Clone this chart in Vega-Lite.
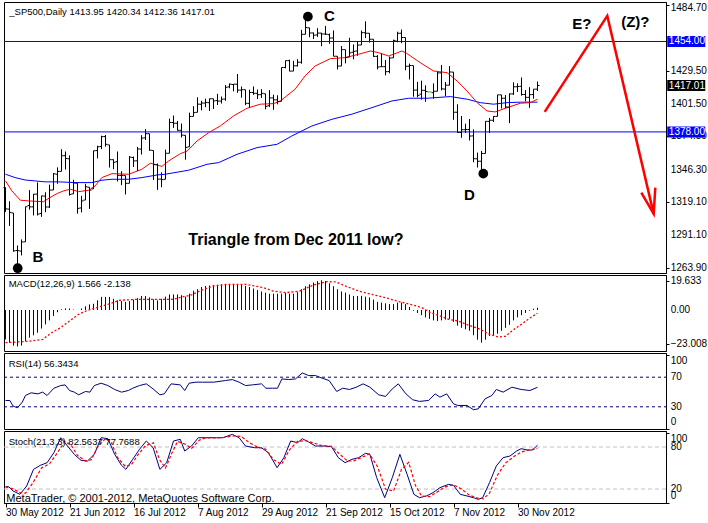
{
"$schema": "https://vega.github.io/schema/vega-lite/v6.json",
"padding": {"left": 2, "top": 1, "right": 0, "bottom": 0},
"background": "white",
"spacing": 2,
"bounds": "flush",
"config": {
  "view": {"stroke": "black", "strokeWidth": 1},
  "font": "Liberation Sans",
  "axis": {"labelFont": "Liberation Sans", "labelFontSize": 10, "labelColor": "black", "tickColor": "black", "domainColor": "black", "grid": false, "tickSize": 3, "labelPadding": 2, "title": null},
  "axisY": {"labels": false},
  "tick": {"opacity": 1},
  "point": {"opacity": 1},
  "text": {"font": "Liberation Sans"}
},
"datasets": {
  "ohlc": [
{"i":0,"o":1331.25,"h":1331.25,"l":1310.76,"c":1313.32},
{"i":1,"o":1313.09,"h":1319.74,"l":1298.9,"c":1310.33},
{"i":2,"o":1309.87,"h":1309.87,"l":1277.25,"c":1278.04},
{"i":3,"o":1278.29,"h":1282.55,"l":1266.74,"c":1278.18},
{"i":4,"o":1277.82,"h":1287.62,"l":1274.16,"c":1285.5},
{"i":5,"o":1285.61,"h":1315.13,"l":1285.61,"c":1315.13},
{"i":6,"o":1316.15,"h":1329.05,"l":1312.68,"c":1314.99},
{"i":7,"o":1314.99,"h":1325.81,"l":1307.77,"c":1325.66},
{"i":8,"o":1325.72,"h":1335.52,"l":1307.73,"c":1308.93},
{"i":9,"o":1309.4,"h":1324.31,"l":1306.62,"c":1324.18},
{"i":10,"o":1324.02,"h":1327.28,"l":1310.51,"c":1314.88},
{"i":11,"o":1314.88,"h":1333.68,"l":1314.14,"c":1329.1},
{"i":12,"o":1329.19,"h":1343.32,"l":1329.19,"c":1342.84},
{"i":13,"o":1342.42,"h":1348.22,"l":1334.46,"c":1344.78},
{"i":14,"o":1344.83,"h":1363.46,"l":1344.83,"c":1357.98},
{"i":15,"o":1358.04,"h":1361.57,"l":1346.45,"c":1355.69},
{"i":16,"o":1355.43,"h":1358.27,"l":1324.41,"c":1325.51},
{"i":17,"o":1325.92,"h":1337.82,"l":1325.92,"c":1335.02},
{"i":18,"o":1334.9,"h":1334.9,"l":1309.27,"c":1313.72},
{"i":19,"o":1314.09,"h":1324.24,"l":1310.3,"c":1319.99},
{"i":20,"o":1320.71,"h":1334.4,"l":1320.71,"c":1331.85},
{"i":21,"o":1331.52,"h":1331.52,"l":1313.29,"c":1329.04},
{"i":22,"o":1330.12,"h":1362.17,"l":1330.12,"c":1362.16},
{"i":23,"o":1362.33,"h":1366.35,"l":1355.7,"c":1365.51},
{"i":24,"o":1365.75,"h":1374.81,"l":1363.53,"c":1374.02},
{"i":25,"o":1374.09,"h":1375.45,"l":1365.56,"c":1367.58},
{"i":26,"o":1367.09,"h":1367.09,"l":1348.03,"c":1354.68},
{"i":27,"o":1354.66,"h":1354.87,"l":1346.65,"c":1352.46},
{"i":28,"o":1352.96,"h":1361.54,"l":1336.27,"c":1341.47},
{"i":29,"o":1341.4,"h":1345,"l":1333.25,"c":1341.45},
{"i":30,"o":1341.29,"h":1341.29,"l":1325.41,"c":1334.76},
{"i":31,"o":1334.81,"h":1357.7,"l":1334.81,"c":1356.78},
{"i":32,"o":1356.5,"h":1357.26,"l":1348.51,"c":1353.64},
{"i":33,"o":1353.68,"h":1365.36,"l":1345.07,"c":1363.67},
{"i":34,"o":1363.58,"h":1375.26,"l":1358.96,"c":1372.78},
{"i":35,"o":1373.01,"h":1380.39,"l":1371.21,"c":1376.51},
{"i":36,"o":1376.51,"h":1376.51,"l":1362.19,"c":1362.66},
{"i":37,"o":1362.34,"h":1362.34,"l":1337.56,"c":1350.52},
{"i":38,"o":1350.52,"h":1351.53,"l":1329.24,"c":1338.31},
{"i":39,"o":1338.35,"h":1343.98,"l":1331.5,"c":1337.89},
{"i":40,"o":1338.17,"h":1363.13,"l":1338.17,"c":1360.02},
{"i":41,"o":1360.05,"h":1389.19,"l":1360.05,"c":1385.97},
{"i":42,"o":1385.94,"h":1391.74,"l":1381.37,"c":1385.3},
{"i":43,"o":1385.27,"h":1387.16,"l":1379.17,"c":1379.32},
{"i":44,"o":1379.32,"h":1385.03,"l":1373.35,"c":1375.32},
{"i":45,"o":1375.13,"h":1375.13,"l":1354.65,"c":1365},
{"i":46,"o":1365.45,"h":1394.16,"l":1365.45,"c":1390.99},
{"i":47,"o":1391.04,"h":1399.63,"l":1391.04,"c":1394.23},
{"i":48,"o":1394.46,"h":1407.14,"l":1394.46,"c":1401.35},
{"i":49,"o":1401.23,"h":1404.14,"l":1396.13,"c":1402.22},
{"i":50,"o":1402.26,"h":1405.95,"l":1398.8,"c":1402.8},
{"i":51,"o":1402.58,"h":1405.98,"l":1395.62,"c":1405.87},
{"i":52,"o":1405.87,"h":1405.87,"l":1397.32,"c":1404.11},
{"i":53,"o":1404.36,"h":1410.03,"l":1400.6,"c":1403.93},
{"i":54,"o":1403.89,"h":1407.73,"l":1401.83,"c":1405.53},
{"i":55,"o":1405.57,"h":1417.44,"l":1404.15,"c":1415.51},
{"i":56,"o":1415.84,"h":1418.71,"l":1414.67,"c":1418.16},
{"i":57,"o":1417.85,"h":1418.13,"l":1412.12,"c":1418.13},
{"i":58,"o":1418.13,"h":1426.68,"l":1410.86,"c":1413.17},
{"i":59,"o":1413.09,"h":1416.12,"l":1406.78,"c":1413.49},
{"i":60,"o":1413.49,"h":1413.49,"l":1400.5,"c":1402.08},
{"i":61,"o":1401.99,"h":1413.46,"l":1398.04,"c":1411.13},
{"i":62,"o":1411.13,"h":1416.17,"l":1409.11,"c":1410.44},
{"i":63,"o":1410.44,"h":1413.63,"l":1405.59,"c":1409.3},
{"i":64,"o":1409.32,"h":1413.95,"l":1406.57,"c":1410.49},
{"i":65,"o":1410.08,"h":1410.08,"l":1397.01,"c":1399.48},
{"i":66,"o":1400.07,"h":1413.09,"l":1398.96,"c":1406.58},
{"i":67,"o":1406.54,"h":1409.31,"l":1396.56,"c":1404.94},
{"i":68,"o":1404.94,"h":1408.81,"l":1401.25,"c":1403.44},
{"i":69,"o":1403.74,"h":1432.12,"l":1403.74,"c":1432.12},
{"i":70,"o":1432.12,"h":1437.92,"l":1431.45,"c":1437.92},
{"i":71,"o":1437.92,"h":1438.74,"l":1428.98,"c":1429.08},
{"i":72,"o":1429.13,"h":1437.76,"l":1429.13,"c":1433.56},
{"i":73,"o":1433.56,"h":1439.15,"l":1432.99,"c":1436.56},
{"i":74,"o":1436.56,"h":1463.76,"l":1435.34,"c":1459.99},
{"i":75,"o":1460.07,"h":1474.51,"l":1460.07,"c":1465.77},
{"i":76,"o":1465.42,"h":1465.63,"l":1457.55,"c":1461.19},
{"i":77,"o":1461.19,"h":1461.47,"l":1456.13,"c":1459.32},
{"i":78,"o":1459.5,"h":1465.15,"l":1457.88,"c":1461.05},
{"i":79,"o":1461.05,"h":1461.23,"l":1449.98,"c":1460.26},
{"i":80,"o":1460.34,"h":1467.07,"l":1459.51,"c":1460.15},
{"i":81,"o":1459.76,"h":1460.72,"l":1452.06,"c":1456.89},
{"i":82,"o":1456.94,"h":1463.24,"l":1441.59,"c":1441.59},
{"i":83,"o":1441.6,"h":1441.6,"l":1430.53,"c":1433.32},
{"i":84,"o":1433.36,"h":1450.2,"l":1433.36,"c":1447.15},
{"i":85,"o":1447.13,"h":1447.13,"l":1435.6,"c":1440.67},
{"i":86,"o":1440.9,"h":1457.14,"l":1440.9,"c":1444.49},
{"i":87,"o":1444.99,"h":1451.52,"l":1439.01,"c":1445.75},
{"i":88,"o":1446.05,"h":1454.3,"l":1441.99,"c":1450.99},
{"i":89,"o":1451.08,"h":1463.14,"l":1451.08,"c":1461.4},
{"i":90,"o":1461.4,"h":1470.96,"l":1456.89,"c":1460.93},
{"i":91,"o":1460.93,"h":1460.93,"l":1453.1,"c":1455.88},
{"i":92,"o":1455.9,"h":1455.9,"l":1441.18,"c":1441.48},
{"i":93,"o":1441.48,"h":1442.52,"l":1430.64,"c":1432.56},
{"i":94,"o":1432.82,"h":1443.9,"l":1432.82,"c":1432.84},
{"i":95,"o":1432.84,"h":1438.43,"l":1425.53,"c":1428.59},
{"i":96,"o":1428.75,"h":1441.31,"l":1427.24,"c":1440.13},
{"i":97,"o":1440.31,"h":1455.51,"l":1440.31,"c":1454.92},
{"i":98,"o":1454.22,"h":1462.2,"l":1453.35,"c":1460.91},
{"i":99,"o":1460.94,"h":1464.02,"l":1452.63,"c":1457.34},
{"i":100,"o":1457.34,"h":1457.34,"l":1429.85,"c":1433.19},
{"i":101,"o":1433.21,"h":1435.46,"l":1422.06,"c":1433.82},
{"i":102,"o":1433.74,"h":1433.74,"l":1407.56,"c":1413.11},
{"i":103,"o":1413.2,"h":1420.04,"l":1407.1,"c":1408.75},
{"i":104,"o":1409.74,"h":1421.12,"l":1405.14,"c":1412.97},
{"i":105,"o":1412.97,"h":1417.09,"l":1403.28,"c":1411.94},
{"i":106,"o":1411.6,"h":1411.6,"l":1411.6,"c":1411.6},
{"i":107,"o":1410.99,"h":1418.76,"l":1405.95,"c":1412.16},
{"i":108,"o":1412.2,"h":1428.35,"l":1412.2,"c":1427.59},
{"i":109,"o":1427.59,"h":1434.27,"l":1412.91,"c":1414.2},
{"i":110,"o":1414.02,"h":1419.9,"l":1408.13,"c":1417.26},
{"i":111,"o":1417.26,"h":1433.38,"l":1417.26,"c":1428.39},
{"i":112,"o":1428.27,"h":1428.27,"l":1388.14,"c":1394.53},
{"i":113,"o":1394.53,"h":1401.23,"l":1377.51,"c":1377.51},
{"i":114,"o":1377.55,"h":1391.39,"l":1373.03,"c":1379.85},
{"i":115,"o":1379.86,"h":1384.87,"l":1377.19,"c":1380.03},
{"i":116,"o":1380.03,"h":1388.81,"l":1370.78,"c":1374.53},
{"i":117,"o":1374.64,"h":1380.13,"l":1352.5,"c":1355.49},
{"i":118,"o":1355.41,"h":1360.62,"l":1348.05,"c":1353.33},
{"i":119,"o":1353.36,"h":1362.03,"l":1343.35,"c":1359.88},
{"i":120,"o":1359.88,"h":1386.89,"l":1359.88,"c":1386.89},
{"i":121,"o":1386.82,"h":1389.77,"l":1377.04,"c":1387.81},
{"i":122,"o":1387.79,"h":1391.25,"l":1386.39,"c":1391.03},
{"i":123,"o":1391.03,"h":1409.16,"l":1391.03,"c":1409.15},
{"i":124,"o":1409.15,"h":1409.15,"l":1397.68,"c":1406.29},
{"i":125,"o":1406.29,"h":1409.01,"l":1398.03,"c":1398.94},
{"i":126,"o":1398.77,"h":1410.31,"l":1385.43,"c":1409.93},
{"i":127,"o":1409.96,"h":1419.7,"l":1409.04,"c":1415.95},
{"i":128,"o":1415.95,"h":1418.86,"l":1411.63,"c":1416.18},
{"i":129,"o":1416.34,"h":1423.73,"l":1408.46,"c":1409.46},
{"i":130,"o":1409.46,"h":1413.14,"l":1403.65,"c":1407.05},
{"i":131,"o":1407.05,"h":1415.56,"l":1398.23,"c":1409.28},
{"i":132,"o":1409.43,"h":1413.95,"l":1405.93,"c":1413.94},
{"i":133,"o":1413.95,"h":1420.34,"l":1412.36,"c":1417.01}
  ],
  "red": [
{"i":0,"v":1336.8},{"i":1.6,"v":1328.4},{"i":3.7,"v":1320.6},{"i":5.8,"v":1320},{"i":9.5,"v":1319.3},{"i":11.1,"v":1322.8},{"i":12.9,"v":1326.2},{"i":14.5,"v":1328.4},{"i":16.2,"v":1329.8},{"i":18.3,"v":1327.8},{"i":20.8,"v":1329},{"i":22.4,"v":1332.6},{"i":24.1,"v":1339.6},{"i":26.6,"v":1342.9},{"i":30.8,"v":1342.4},{"i":34.1,"v":1346.6},{"i":36.2,"v":1351.7},{"i":39.1,"v":1349},{"i":40.8,"v":1353.6},{"i":43.7,"v":1359.7},{"i":45.4,"v":1361.9},{"i":47.9,"v":1370.4},{"i":50.8,"v":1377.4},{"i":53.7,"v":1383},{"i":57,"v":1391.4},{"i":60.4,"v":1397.9},{"i":63.7,"v":1401.3},{"i":67,"v":1401.8},{"i":68.7,"v":1404},{"i":72.4,"v":1413.9},{"i":74.9,"v":1425.1},{"i":77.4,"v":1433.4},{"i":81.2,"v":1439.6},{"i":84.9,"v":1440.4},{"i":88.3,"v":1443.3},{"i":91.2,"v":1446},{"i":93.3,"v":1444.6},{"i":95.8,"v":1441.8},{"i":99.1,"v":1446},{"i":100.3,"v":1444},{"i":103.7,"v":1436.2},{"i":107,"v":1429.2},{"i":110.4,"v":1427.8},{"i":112.9,"v":1420.8},{"i":115.4,"v":1412.4},{"i":117.9,"v":1402.6},{"i":120.4,"v":1395.6},{"i":122.4,"v":1394.8},{"i":125.4,"v":1398.4},{"i":128.7,"v":1402.1},{"i":131.2,"v":1402.6},{"i":133,"v":1405.5}
  ],
  "blue": [
{"i":0,"v":1342.4},{"i":2.4,"v":1339.6},{"i":4.9,"v":1337.6},{"i":7.4,"v":1336.8},{"i":9.9,"v":1336},{"i":13.3,"v":1336},{"i":17.4,"v":1335.4},{"i":21.6,"v":1335.4},{"i":24.1,"v":1337.4},{"i":26.6,"v":1338.2},{"i":30.8,"v":1338.2},{"i":34.1,"v":1339.6},{"i":37.9,"v":1341.8},{"i":39.9,"v":1342.4},{"i":45.8,"v":1345.8},{"i":50.4,"v":1350.8},{"i":53.3,"v":1352.2},{"i":57.9,"v":1359.2},{"i":62.9,"v":1364.8},{"i":67.9,"v":1367.6},{"i":71.6,"v":1374.6},{"i":76.6,"v":1383},{"i":81.6,"v":1388.6},{"i":86.6,"v":1392.9},{"i":91.6,"v":1398.4},{"i":96.6,"v":1404},{"i":100.8,"v":1406.3},{"i":105.4,"v":1406.3},{"i":111.2,"v":1407.7},{"i":115.4,"v":1405.5},{"i":118.7,"v":1402.6},{"i":122,"v":1401.3},{"i":125.4,"v":1402.6},{"i":128.7,"v":1403},{"i":133,"v":1403}
  ],
  "levels": [{"v":1454},{"v":1378}],
  "arrow": [
{"s":1,"o":1,"i":134.8,"v":1394.8},{"s":1,"o":2,"i":150.45,"v":1475.5},{"s":1,"o":3,"i":162.05,"v":1309.1},
{"s":2,"o":1,"i":158.95,"v":1327.0},{"s":2,"o":2,"i":162.05,"v":1309.1},{"s":2,"o":3,"i":162.45,"v":1331.2}
  ],
  "dots": [{"i":3.05,"v":1263.4},{"i":75.6,"v":1474.9},{"i":119.45,"v":1342.9}],
  "marks": [
{"i":8.1,"v":1273.0,"t":"B"},{"i":80.95,"v":1475.2,"t":"C"},{"i":115.95,"v":1324.8,"t":"D"},{"i":144.1,"v":1468.5,"t":"E?"},{"i":157.45,"v":1470.7,"t":"(Z)?"}
  ],
  "pticks": [{"v":1429.5},{"v":1401.5},{"v":1374.3},{"v":1346.3},{"v":1319.1},{"v":1291.1},{"v":1263.9}],
  "ptop": [{"v":1484.7}],
  "boxes": [
{"v":1454,"t":"1454.00","k":"level"},{"v":1378,"t":"1378.00","k":"level"},{"v":1417.01,"t":"1417.01","k":"last"}
  ],
  "macd": [
{"i":0,"m":-19.8},{"i":1,"m":-22},{"i":2,"m":-24},{"i":3,"m":-24.5},{"i":4,"m":-24},{"i":5,"m":-21},{"i":6,"m":-18.6},{"i":7,"m":-17},{"i":8,"m":-15.3},{"i":9,"m":-12.5},
{"i":10,"m":-9.7},{"i":11,"m":-7},{"i":12,"m":-4},{"i":13,"m":-1.5},{"i":14,"m":0.5},{"i":15,"m":1.1},{"i":16,"m":1},{"i":17,"m":0.3},{"i":18,"m":0},{"i":19,"m":1},
{"i":20,"m":2.5},{"i":21,"m":3.8},{"i":22,"m":4.2},{"i":23,"m":6.5},{"i":24,"m":8.8},{"i":25,"m":8.8},{"i":26,"m":8.8},{"i":27,"m":7.5},{"i":28,"m":6.5},{"i":29,"m":6},
{"i":30,"m":5.5},{"i":31,"m":6},{"i":32,"m":7},{"i":33,"m":8},{"i":34,"m":9.4},{"i":35,"m":9.4},{"i":36,"m":8.5},{"i":37,"m":7.2},{"i":38,"m":6.5},{"i":39,"m":7.5},
{"i":40,"m":9},{"i":41,"m":10.5},{"i":42,"m":10.5},{"i":43,"m":10.5},{"i":44,"m":10},{"i":45,"m":9},{"i":46,"m":11},{"i":47,"m":13},{"i":48,"m":14},{"i":49,"m":15.5},
{"i":50,"m":16.2},{"i":51,"m":16.5},{"i":52,"m":16.8},{"i":53,"m":17},{"i":54,"m":17.2},{"i":55,"m":17.3},{"i":56,"m":17.5},{"i":57,"m":17.5},{"i":58,"m":17.3},{"i":59,"m":17},
{"i":60,"m":16.2},{"i":61,"m":15.5},{"i":62,"m":14.5},{"i":63,"m":13.5},{"i":64,"m":12.5},{"i":65,"m":11.7},{"i":66,"m":11},{"i":67,"m":11},{"i":68,"m":11},{"i":69,"m":11},
{"i":70,"m":11.5},{"i":71,"m":11},{"i":72,"m":11},{"i":73,"m":12},{"i":74,"m":14},{"i":75,"m":16},{"i":76,"m":17.3},{"i":77,"m":18.5},{"i":78,"m":19.5},{"i":79,"m":20},
{"i":80,"m":19.5},{"i":81,"m":18},{"i":82,"m":16},{"i":83,"m":14},{"i":84,"m":12.5},{"i":85,"m":11.7},{"i":86,"m":10.5},{"i":87,"m":9.5},{"i":88,"m":9.4},{"i":89,"m":9.5},
{"i":90,"m":9},{"i":91,"m":8.5},{"i":92,"m":7},{"i":93,"m":5.5},{"i":94,"m":5},{"i":95,"m":4.5},{"i":96,"m":4},{"i":97,"m":4},{"i":98,"m":5},{"i":99,"m":5},
{"i":100,"m":4},{"i":101,"m":2},{"i":102,"m":-0.5},{"i":103,"m":-2},{"i":104,"m":-3.5},{"i":105,"m":-5},{"i":106,"m":-6},{"i":107,"m":-7},{"i":108,"m":-7.4},{"i":109,"m":-7},
{"i":110,"m":-6.5},{"i":111,"m":-6},{"i":112,"m":-8},{"i":113,"m":-10.5},{"i":114,"m":-12},{"i":115,"m":-13},{"i":116,"m":-14},{"i":117,"m":-17},{"i":118,"m":-20},{"i":119,"m":-22},
{"i":120,"m":-20},{"i":121,"m":-17.5},{"i":122,"m":-17},{"i":123,"m":-16},{"i":124,"m":-14},{"i":125,"m":-12},{"i":126,"m":-10},{"i":127,"m":-7},{"i":128,"m":-5},{"i":129,"m":-3.5},
{"i":130,"m":-2},{"i":131,"m":-0.5},{"i":132,"m":0.8},{"i":133,"m":1.566}
  ],
  "signal": [
{"i":0,"v":-22},{"i":5.9,"v":-21},{"i":9.3,"v":-19.8},{"i":11.5,"v":-15.3},{"i":13.8,"v":-11.9},{"i":16,"v":-7.4},{"i":18.3,"v":-2.9},{"i":20.5,"v":-0.2},{"i":22.8,"v":1.6},{"i":26.2,"v":4.3},{"i":28.4,"v":6.5},{"i":33,"v":7.2},{"i":42,"v":7.2},{"i":44.2,"v":8.8},{"i":46.5,"v":10.1},{"i":48.8,"v":13.2},{"i":52.1,"v":16.2},{"i":55.5,"v":17.3},{"i":60,"v":17.3},{"i":64.6,"v":15},{"i":66.8,"v":12.8},{"i":70.2,"v":11.7},{"i":73.6,"v":12.8},{"i":77,"v":16.8},{"i":80.4,"v":19.1},{"i":82.6,"v":18.9},{"i":84.9,"v":16.2},{"i":88.3,"v":12.8},{"i":91.6,"v":10.5},{"i":95,"v":8.3},{"i":98.4,"v":5.6},{"i":101.8,"v":3.4},{"i":104.1,"v":1.6},{"i":106.3,"v":-1.8},{"i":108.6,"v":-4},{"i":110.8,"v":-6.3},{"i":113.1,"v":-7.4},{"i":115.3,"v":-9.7},{"i":118.7,"v":-13},{"i":121,"v":-16.4},{"i":123.3,"v":-18.2},{"i":125,"v":-17.7},{"i":126.6,"v":-14.1},{"i":128.9,"v":-9.7},{"i":131.2,"v":-5.2},{"i":133,"v":-2.138}
  ],
  "rsi": [
{"i":0,"v":38.5},{"i":1.1,"v":38.5},{"i":1.9,"v":30.9},{"i":3,"v":28.7},{"i":4.2,"v":36.3},{"i":5,"v":45.3},{"i":6.4,"v":48.9},{"i":8.1,"v":47.5},{"i":9.3,"v":49.8},{"i":10.4,"v":45.3},{"i":12.1,"v":55.1},{"i":13.8,"v":58.7},{"i":14.9,"v":59.6},{"i":16,"v":52},{"i":17.2,"v":49.8},{"i":18.3,"v":46.2},{"i":20,"v":50.7},{"i":21.1,"v":49.8},{"i":22.2,"v":58.7},{"i":23.9,"v":61.9},{"i":25.6,"v":58.7},{"i":27.3,"v":53.4},{"i":29,"v":49.8},{"i":30.7,"v":52},{"i":31.8,"v":55.1},{"i":33.5,"v":58.7},{"i":35.2,"v":61},{"i":36.9,"v":54.2},{"i":38.6,"v":46.2},{"i":39.7,"v":47.5},{"i":41.4,"v":61},{"i":43.7,"v":59.6},{"i":44.8,"v":52},{"i":45.9,"v":61.9},{"i":47.6,"v":63.3},{"i":49.3,"v":63.3},{"i":52.1,"v":63.3},{"i":55,"v":65.5},{"i":56.7,"v":66.8},{"i":58.4,"v":63.3},{"i":60,"v":58.7},{"i":61.7,"v":59.6},{"i":64,"v":61},{"i":65.1,"v":55.1},{"i":66.8,"v":55.1},{"i":68,"v":55.1},{"i":69.1,"v":67.7},{"i":70.8,"v":66.8},{"i":72.5,"v":67.7},{"i":74.2,"v":75.8},{"i":75.8,"v":72.2},{"i":77.5,"v":72.2},{"i":79.2,"v":68.6},{"i":80.9,"v":65.5},{"i":82.8,"v":50.7},{"i":84.3,"v":55.1},{"i":86,"v":53.4},{"i":87.7,"v":56.5},{"i":89.4,"v":61},{"i":91.1,"v":56.5},{"i":93.3,"v":46.2},{"i":95,"v":44},{"i":96.7,"v":54.2},{"i":98.2,"v":61},{"i":100.1,"v":47.5},{"i":101.8,"v":39.5},{"i":103.5,"v":37.3},{"i":105.8,"v":38.6},{"i":107.4,"v":47.5},{"i":108.6,"v":43},{"i":110.3,"v":47.5},{"i":112,"v":34},{"i":113.1,"v":31.8},{"i":115.4,"v":31.8},{"i":117,"v":26},{"i":118.2,"v":27.3},{"i":119.9,"v":40.8},{"i":121.6,"v":45.3},{"i":122.7,"v":53.4},{"i":124.4,"v":49.8},{"i":126.6,"v":56.5},{"i":128.9,"v":53.4},{"i":131.1,"v":52},{"i":133,"v":56.34}
  ],
  "stk": [
{"i":0,"v":23.3},{"i":0.8,"v":23.3},{"i":1.9,"v":17.1},{"i":3.6,"v":12.4},{"i":5.3,"v":24.3},{"i":7,"v":48.1},{"i":8.7,"v":53.8},{"i":10.4,"v":57.6},{"i":12.1,"v":71.9},{"i":13.8,"v":93.3},{"i":15.5,"v":81.4},{"i":17.2,"v":69.5},{"i":18.9,"v":60.9},{"i":20.5,"v":60},{"i":22.2,"v":69.5},{"i":23.9,"v":93.3},{"i":25.6,"v":91.9},{"i":27.3,"v":69.5},{"i":29,"v":53.8},{"i":30.1,"v":48.1},{"i":31.8,"v":62.4},{"i":33.5,"v":76.7},{"i":35.2,"v":88.6},{"i":36.9,"v":79},{"i":38.6,"v":48.1},{"i":40.3,"v":57.6},{"i":42,"v":88.6},{"i":43.7,"v":91},{"i":44.8,"v":74.3},{"i":46.5,"v":81.4},{"i":48.2,"v":93.3},{"i":49.9,"v":93.3},{"i":52.7,"v":93.3},{"i":54.4,"v":93.3},{"i":56.7,"v":98.1},{"i":58.4,"v":93.3},{"i":60,"v":81.4},{"i":62.3,"v":79},{"i":64,"v":79},{"i":65.7,"v":71.9},{"i":67.9,"v":50.5},{"i":69.6,"v":64.8},{"i":71.3,"v":88.6},{"i":73,"v":86.2},{"i":74.2,"v":91.9},{"i":75.8,"v":87.1},{"i":77.5,"v":81.4},{"i":79.8,"v":81.4},{"i":81.5,"v":80.5},{"i":83.2,"v":64.8},{"i":84.9,"v":57.6},{"i":86.6,"v":62.4},{"i":88.3,"v":64.8},{"i":90,"v":71},{"i":91.1,"v":69.5},{"i":92.8,"v":36.2},{"i":94.8,"v":7.6},{"i":96.7,"v":36.2},{"i":98.6,"v":69.5},{"i":100.4,"v":41},{"i":102.1,"v":12.4},{"i":103.5,"v":7.6},{"i":105.2,"v":10},{"i":106.9,"v":14.8},{"i":108.6,"v":21.9},{"i":110.8,"v":26.7},{"i":112,"v":25.2},{"i":113.7,"v":12.4},{"i":115.4,"v":10},{"i":117,"v":7.6},{"i":118.2,"v":5.2},{"i":119.3,"v":7.6},{"i":121,"v":29},{"i":122.7,"v":52.9},{"i":124.4,"v":64.8},{"i":126.1,"v":67.1},{"i":127.8,"v":74.3},{"i":128.9,"v":77.6},{"i":130.6,"v":75.7},{"i":131.7,"v":75.7},{"i":133,"v":82.56}
  ],
  "std": [
{"i":0,"v":23},{"i":2,"v":20},{"i":3.5,"v":15},{"i":5,"v":14},{"i":7,"v":30},{"i":9,"v":50},{"i":11,"v":56},{"i":13,"v":72},{"i":14.8,"v":88},{"i":16.5,"v":82},{"i":18,"v":68},{"i":20,"v":60},{"i":21.5,"v":62},{"i":23,"v":80},{"i":25,"v":92},{"i":26.5,"v":86},{"i":28,"v":65},{"i":30,"v":52},{"i":31.5,"v":55},{"i":33,"v":68},{"i":35,"v":82},{"i":37,"v":86},{"i":38.5,"v":62},{"i":40,"v":50},{"i":41.5,"v":70},{"i":43,"v":88},{"i":45,"v":84},{"i":46.5,"v":78},{"i":48.5,"v":90},{"i":50,"v":93},{"i":53,"v":93},{"i":55,"v":94},{"i":57,"v":96},{"i":59,"v":95},{"i":61,"v":86},{"i":63,"v":80},{"i":65,"v":77},{"i":67,"v":62},{"i":69,"v":55},{"i":71,"v":76},{"i":73,"v":88},{"i":75,"v":89},{"i":77,"v":86},{"i":79,"v":82},{"i":81.5,"v":81},{"i":83.5,"v":70},{"i":85.5,"v":60},{"i":87,"v":60},{"i":89,"v":65},{"i":91,"v":70},{"i":93,"v":52},{"i":95,"v":20},{"i":97,"v":17},{"i":99,"v":48},{"i":100.8,"v":58},{"i":102.5,"v":25},{"i":104,"v":10},{"i":106,"v":9},{"i":108,"v":16},{"i":110,"v":23},{"i":112,"v":26},{"i":114,"v":20},{"i":116,"v":11},{"i":118,"v":7},{"i":119.5,"v":6},{"i":121,"v":14},{"i":123,"v":40},{"i":125,"v":57},{"i":127,"v":66},{"i":129,"v":73},{"i":131,"v":76},{"i":133,"v":77.77}
  ]
},
"vconcat": [
  {
    "width": 662, "height": 271,
    "layer": [
      {"data": {"name": "levels"}, "mark": {"type": "rule", "color": "#0000ff", "strokeWidth": 1},
       "encoding": {
         "x": {"datum": -0.375, "type": "quantitative", "scale": {"domain": [-0.375, 165.125], "nice": false, "zero": false}, "axis": null},
         "x2": {"datum": 165.125},
         "y": {"field": "v", "type": "quantitative", "scale": {"domain": [1259.4, 1487.2], "nice": false, "zero": false},
               "axis": {"orient": "right", "title": null, "labels": false, "values": [1263.9, 1291.1, 1319.1, 1346.3, 1374.3, 1401.5, 1429.5, 1457.1, 1484.7]}}
       }},
      {"data": {"name": "blue"}, "mark": {"type": "line", "color": "#0000ff", "strokeWidth": 1},
       "encoding": {"x": {"field": "i", "type": "quantitative"}, "y": {"field": "v", "type": "quantitative"}}},
      {"data": {"name": "red"}, "mark": {"type": "line", "color": "#ff0000", "strokeWidth": 1},
       "encoding": {"x": {"field": "i", "type": "quantitative"}, "y": {"field": "v", "type": "quantitative"}}},
      {"data": {"name": "ohlc"}, "mark": {"type": "rule", "strokeWidth": 1},
       "encoding": {"x": {"field": "i", "type": "quantitative"}, "y": {"field": "l", "type": "quantitative"}, "y2": {"field": "h"},
         "color": {"condition": {"test": "datum.h == datum.l", "value": "#00c000"}, "value": "black"}}},
      {"data": {"name": "ohlc"}, "mark": {"type": "tick", "orient": "horizontal", "size": 2, "thickness": 1, "xOffset": -1},
       "encoding": {"x": {"field": "i", "type": "quantitative"}, "y": {"field": "o", "type": "quantitative"},
         "color": {"condition": {"test": "datum.h == datum.l", "value": "#00c000"}, "value": "black"}}},
      {"data": {"name": "ohlc"}, "mark": {"type": "tick", "orient": "horizontal", "size": 2, "thickness": 1, "xOffset": 1},
       "encoding": {"x": {"field": "i", "type": "quantitative"}, "y": {"field": "c", "type": "quantitative"},
         "color": {"condition": {"test": "datum.h == datum.l", "value": "#00c000"}, "value": "black"}}},
      {"data": {"name": "arrow"}, "mark": {"type": "line", "color": "#ff0000", "strokeWidth": 2.5},
       "encoding": {"x": {"field": "i", "type": "quantitative"}, "y": {"field": "v", "type": "quantitative"}, "detail": {"field": "s"}, "order": {"field": "o"}}},
      {"data": {"name": "dots"}, "mark": {"type": "point", "filled": true, "color": "black", "size": 95},
       "encoding": {"x": {"field": "i", "type": "quantitative"}, "y": {"field": "v", "type": "quantitative"}}},
      {"data": {"name": "marks"}, "mark": {"type": "text", "fontSize": 15, "fontWeight": "bold", "color": "black", "align": "center", "baseline": "middle"},
       "encoding": {"x": {"field": "i", "type": "quantitative"}, "y": {"field": "v", "type": "quantitative"}, "text": {"field": "t"}}},
      {"data": {"values": [{"t": "Triangle from Dec 2011 low?"}]}, "mark": {"type": "text", "fontSize": 16, "fontWeight": "bold", "color": "black", "align": "center", "baseline": "middle"},
       "encoding": {"x": {"datum": 72.6, "type": "quantitative"}, "y": {"datum": 1287.0, "type": "quantitative"}, "text": {"field": "t"}}},
      {"data": {"values": [{"t": "_SP500,Daily  1413.95 1420.34 1412.36 1417.01"}]}, "mark": {"type": "text", "fontSize": 9.5, "color": "black", "align": "left", "baseline": "middle"},
       "encoding": {"x": {"datum": 0.95, "type": "quantitative"}, "y": {"datum": 1479.1, "type": "quantitative"}, "text": {"field": "t"}}},
      {"data": {"name": "pticks"}, "mark": {"type": "text", "fontSize": 10, "color": "black", "align": "left", "baseline": "middle"},
       "encoding": {"x": {"datum": 166.3, "type": "quantitative"}, "y": {"field": "v", "type": "quantitative"}, "text": {"field": "v", "type": "quantitative", "format": ".2f"}}},
      {"data": {"name": "ptop"}, "mark": {"type": "text", "fontSize": 10, "color": "black", "align": "left", "baseline": "middle", "yOffset": 3},
       "encoding": {"x": {"datum": 166.3, "type": "quantitative"}, "y": {"field": "v", "type": "quantitative"}, "text": {"field": "v", "type": "quantitative", "format": ".2f"}}},
      {"data": {"name": "boxes"}, "mark": {"type": "tick", "orient": "horizontal", "size": 38, "thickness": 11},
       "encoding": {"x": {"datum": 170.19, "type": "quantitative"}, "y": {"field": "v", "type": "quantitative"},
         "color": {"field": "k", "type": "nominal", "scale": {"domain": ["level", "last"], "range": ["#0000ff", "#000000"]}, "legend": null}}},
      {"data": {"name": "boxes"}, "mark": {"type": "text", "fontSize": 10, "color": "white", "align": "left", "baseline": "middle"},
       "encoding": {"x": {"datum": 165.83, "type": "quantitative"}, "y": {"field": "v", "type": "quantitative"}, "text": {"field": "t"}}}
    ]
  },
  {
    "width": 662, "height": 76,
    "layer": [
      {"data": {"name": "macd"}, "mark": {"type": "rule", "color": "#000080", "strokeWidth": 1},
       "encoding": {
         "x": {"field": "i", "type": "quantitative", "scale": {"domain": [-0.375, 165.125], "nice": false, "zero": false}, "axis": null},
         "y": {"field": "m", "type": "quantitative", "scale": {"domain": [-27.6, 23.57], "nice": false, "zero": false},
               "axis": {"orient": "right", "title": null, "labels": false, "values": [-23.008, 0, 19.633]}},
         "y2": {"datum": 0}
       }},
      {"data": {"name": "signal"}, "mark": {"type": "line", "color": "#ff0000", "strokeWidth": 1.3, "strokeDash": [2, 2]},
       "encoding": {"x": {"field": "i", "type": "quantitative"}, "y": {"field": "v", "type": "quantitative"}}},
      {"data": {"values": [{"t": "MACD(12,26,9) 1.566 -2.138"}]}, "mark": {"type": "text", "fontSize": 9.5, "color": "black", "align": "left", "baseline": "middle"},
       "encoding": {"x": {"datum": 0.8, "type": "quantitative"}, "y": {"datum": 17.2, "type": "quantitative"}, "text": {"field": "t"}}},
      {"data": {"values": [{"v": 19.633}, {"v": -23.008}]}, "mark": {"type": "text", "fontSize": 10, "color": "black", "align": "left", "baseline": "middle"},
       "encoding": {"x": {"datum": 166.3, "type": "quantitative"}, "y": {"field": "v", "type": "quantitative"}, "text": {"field": "v", "type": "quantitative", "format": ".3f"}}},
      {"data": {"values": [{"v": 0}]}, "mark": {"type": "text", "fontSize": 10, "color": "black", "align": "left", "baseline": "middle"},
       "encoding": {"x": {"datum": 166.3, "type": "quantitative"}, "y": {"field": "v", "type": "quantitative"}, "text": {"field": "v", "type": "quantitative", "format": ".2f"}}}
    ]
  },
  {
    "width": 662, "height": 76,
    "layer": [
      {"data": {"values": [{"v": 30}, {"v": 70}]}, "mark": {"type": "rule", "color": "#000080", "strokeWidth": 1, "strokeDash": [3, 3]},
       "encoding": {
         "x": {"datum": -0.375, "type": "quantitative", "scale": {"domain": [-0.375, 165.125], "nice": false, "zero": false}, "axis": null},
         "x2": {"datum": 165.125},
         "y": {"field": "v", "type": "quantitative", "scale": {"domain": [0, 102.7], "nice": false, "zero": false},
               "axis": {"orient": "right", "title": null, "labels": false, "values": [0, 30, 70, 100]}}
       }},
      {"data": {"name": "rsi"}, "mark": {"type": "line", "color": "#000080", "strokeWidth": 1},
       "encoding": {"x": {"field": "i", "type": "quantitative"}, "y": {"field": "v", "type": "quantitative"}}},
      {"data": {"values": [{"t": "RSI(14) 56.3434"}]}, "mark": {"type": "text", "fontSize": 9.5, "color": "black", "align": "left", "baseline": "middle"},
       "encoding": {"x": {"datum": 0.8, "type": "quantitative"}, "y": {"datum": 88, "type": "quantitative"}, "text": {"field": "t"}}},
      {"data": {"values": [{"v": 30}, {"v": 70}]}, "mark": {"type": "text", "fontSize": 10, "color": "black", "align": "left", "baseline": "middle"},
       "encoding": {"x": {"datum": 166.3, "type": "quantitative"}, "y": {"field": "v", "type": "quantitative"}, "text": {"field": "v", "type": "quantitative"}}},
      {"data": {"values": [{"v": 100}]}, "mark": {"type": "text", "fontSize": 10, "color": "black", "align": "left", "baseline": "middle", "yOffset": 6},
       "encoding": {"x": {"datum": 166.3, "type": "quantitative"}, "y": {"field": "v", "type": "quantitative"}, "text": {"field": "v", "type": "quantitative"}}},
      {"data": {"values": [{"v": 0}]}, "mark": {"type": "text", "fontSize": 10, "color": "black", "align": "left", "baseline": "middle", "yOffset": -7},
       "encoding": {"x": {"datum": 166.3, "type": "quantitative"}, "y": {"field": "v", "type": "quantitative"}, "text": {"field": "v", "type": "quantitative"}}}
    ]
  },
  {
    "width": 662, "height": 72,
    "layer": [
      {"data": {"values": [{"v": 20}, {"v": 80}]}, "mark": {"type": "rule", "color": "#c0c0c0", "strokeWidth": 1, "strokeDash": [4, 3]},
       "encoding": {
         "x": {"datum": -0.375, "type": "quantitative", "scale": {"domain": [-0.375, 165.125], "nice": false, "zero": false},
               "axis": {"orient": "bottom", "title": null, "values": [0, 16, 32, 48, 64, 80, 96, 112, 128], "tickSize": 4, "labelAlign": "left", "labelBaseline": "top", "labelPadding": 0, "labelFlush": false, "labelOverlap": false,
                        "labelExpr": "['30 May 2012','21 Jun 2012','16 Jul 2012','7 Aug 2012','29 Aug 2012','21 Sep 2012','15 Oct 2012','7 Nov 2012','30 Nov 2012'][round(datum.value/16)]"}},
         "x2": {"datum": 165.125},
         "y": {"field": "v", "type": "quantitative", "scale": {"domain": [0, 102.9], "nice": false, "zero": false},
               "axis": {"orient": "right", "title": null, "labels": false, "values": [0, 20, 80, 100]}}
       }},
      {"data": {"name": "stk"}, "mark": {"type": "line", "color": "#000080", "strokeWidth": 1},
       "encoding": {"x": {"field": "i", "type": "quantitative"}, "y": {"field": "v", "type": "quantitative"}}},
      {"data": {"name": "std"}, "mark": {"type": "line", "color": "#ff0000", "strokeWidth": 1.2, "strokeDash": [3, 2]},
       "encoding": {"x": {"field": "i", "type": "quantitative"}, "y": {"field": "v", "type": "quantitative"}}},
      {"data": {"values": [{"t": "Stoch(21,3,3) 82.5637 77.7688"}]}, "mark": {"type": "text", "fontSize": 9.5, "color": "black", "align": "left", "baseline": "middle"},
       "encoding": {"x": {"datum": 0.8, "type": "quantitative"}, "y": {"datum": 87.6, "type": "quantitative"}, "text": {"field": "t"}}},
      {"data": {"values": [{"t": "MetaTrader, © 2001-2012, MetaQuotes Software Corp."}]}, "mark": {"type": "text", "fontSize": 11, "color": "black", "align": "left", "baseline": "middle"},
       "encoding": {"x": {"datum": 0.2, "type": "quantitative"}, "y": {"datum": 6.1, "type": "quantitative"}, "text": {"field": "t"}}},
      {"data": {"values": [{"v": 20}, {"v": 80}]}, "mark": {"type": "text", "fontSize": 10, "color": "black", "align": "left", "baseline": "middle"},
       "encoding": {"x": {"datum": 166.3, "type": "quantitative"}, "y": {"field": "v", "type": "quantitative"}, "text": {"field": "v", "type": "quantitative"}}},
      {"data": {"values": [{"v": 100}]}, "mark": {"type": "text", "fontSize": 10, "color": "black", "align": "left", "baseline": "middle", "yOffset": 6},
       "encoding": {"x": {"datum": 166.3, "type": "quantitative"}, "y": {"field": "v", "type": "quantitative"}, "text": {"field": "v", "type": "quantitative"}}},
      {"data": {"values": [{"v": 0}]}, "mark": {"type": "text", "fontSize": 10, "color": "black", "align": "left", "baseline": "middle", "yOffset": -7},
       "encoding": {"x": {"datum": 166.3, "type": "quantitative"}, "y": {"field": "v", "type": "quantitative"}, "text": {"field": "v", "type": "quantitative"}}}
    ]
  }
]
}
